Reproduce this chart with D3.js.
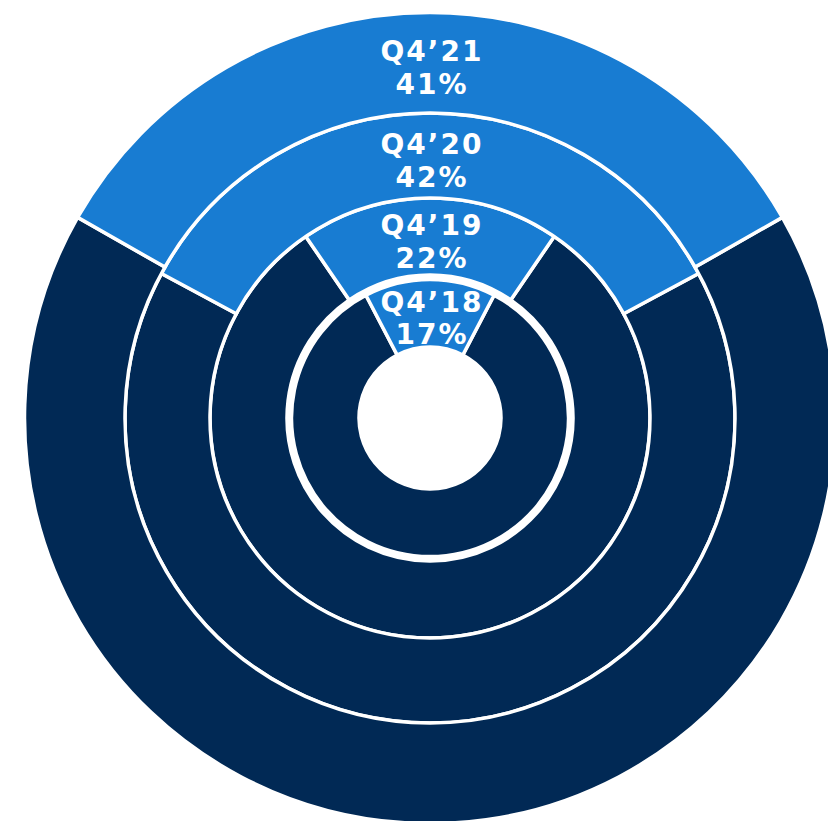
<!DOCTYPE html>
<html>
<head>
<meta charset="utf-8">
<script src="https://cdn.jsdelivr.net/npm/d3@7"></script>
<style>
  html, body { margin: 0; padding: 0; background: #fff; }
  svg { display: block; }
  .label { font-family: "DejaVu Sans", sans-serif; font-weight: bold; fill: #fff; }
</style>
</head>
<body>
<div id="chart"></div>
<script>
// one ring per year, innermost first
const quarters = ["Q4’18", "Q4’19", "Q4’20", "Q4’21"];
const shares = [17, 22, 42, 41];

const width = 828;
const height = 821;
const cx = 430, cy = 418;

// ring edges (hole, the three white circles, outer edge)
const ringEdges = [71, 140, 220, 305, 405.5];
const innerPad = [0, 3, 0, 0];

const navy = "#012955";
const blue = "#187cd2";

const svg = d3.select("#chart")
  .append("svg")
  .attr("width", width)
  .attr("height", height);

const g = svg.append("g").attr("transform", `translate(${cx},${cy})`);

// the original wedges are not strictly proportional: small shares get a bit of
// extra room for the label, and the full scale stops short of 360 degrees
const angle = d3.scaleLinear()
  .domain([0, 100])
  .range([8.6 * Math.PI / 180, 282 * Math.PI / 180]);

const arc = d3.arc();

const rings = quarters.map((q, i) => ({
  quarter: q,
  share: shares[i],
  inner: ringEdges[i] + innerPad[i],
  outer: ringEdges[i + 1] - (i === 0 ? 1.5 : 0),
  half: angle(shares[i]) / 2
}));

rings.forEach(r => {
  const ring = g.append("g").attr("class", "ring");
  // rest of the year
  ring.append("path")
    .attr("d", arc({ innerRadius: r.inner, outerRadius: r.outer, startAngle: r.half, endAngle: 2 * Math.PI - r.half }))
    .attr("fill", navy)
    .attr("stroke", "#fff")
    .attr("stroke-width", 3.5)
    .attr("stroke-linejoin", "miter");
  // highlighted share, centred at the top
  ring.append("path")
    .attr("d", arc({ innerRadius: r.inner, outerRadius: r.outer, startAngle: -r.half, endAngle: r.half }))
    .attr("fill", blue)
    .attr("stroke", "#fff")
    .attr("stroke-width", 3.5)
    .attr("stroke-linejoin", "miter");
});

const spacing = 2;
const labels = g.selectAll(".label")
  .data(rings)
  .enter()
  .append("text")
  .attr("class", "label")
  .attr("text-anchor", "middle")
  .style("font-size", "28px")
  .style("letter-spacing", spacing + "px");

labels.each(function(r) {
  const y = -(r.inner + r.outer) / 2;
  const t = d3.select(this);
  t.append("tspan")
    .attr("x", 1 + spacing / 2)
    .attr("y", y - 1.5)
    .text(r.quarter);
  t.append("tspan")
    .attr("x", 1 + spacing / 2)
    .attr("y", y + 31)
    .text(r.share + "%");
});
</script>
</body>
</html>
